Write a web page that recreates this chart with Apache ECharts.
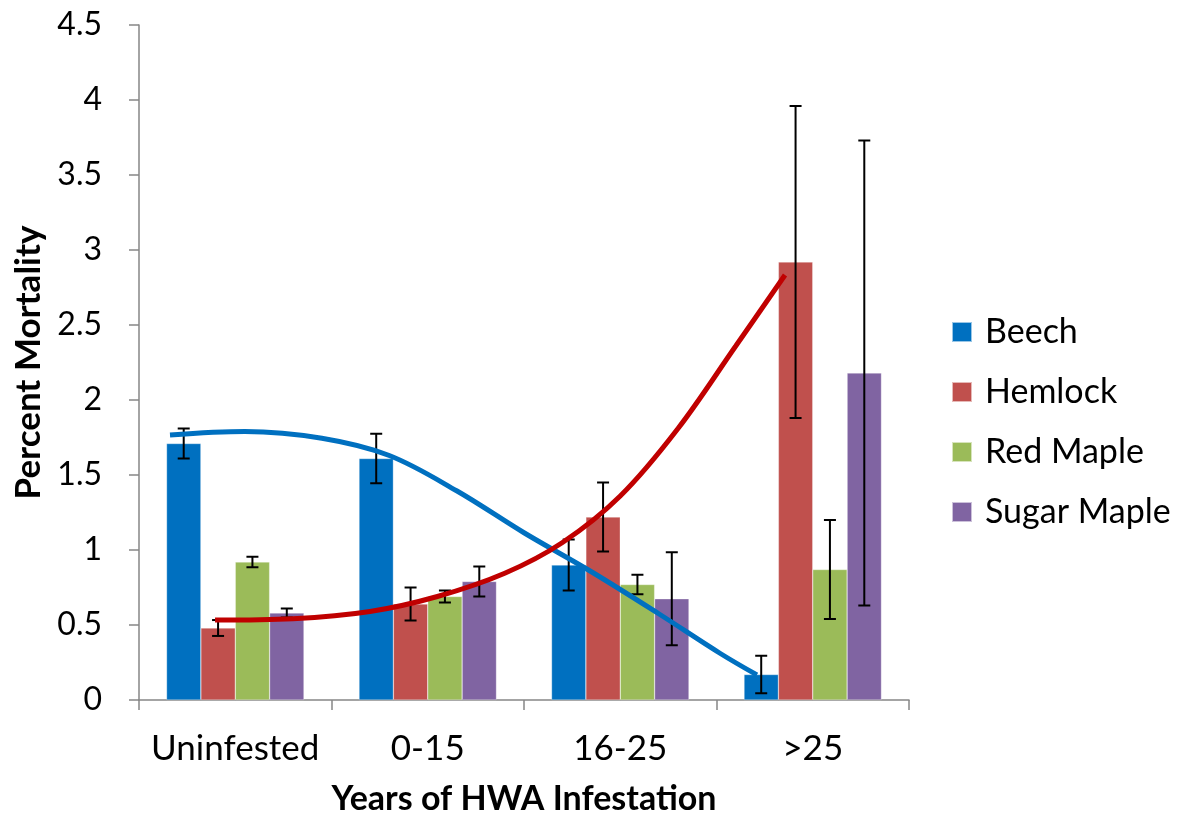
<!DOCTYPE html>
<html>
<head>
<meta charset="utf-8">
<script src="https://cdn.jsdelivr.net/npm/echarts@6/dist/echarts.min.js"></script>
<style>
  html, body { margin: 0; padding: 0; background: #fff; }
  #chart { width: 1178px; height: 816px; }
</style>
</head>
<body>
<div id="chart"></div>
<script>
// Mortality by years of hemlock woolly adelgid infestation
const categories = ['Uninfested', '0-15', '16-25', '>25'];
const species = ['Beech', 'Hemlock', 'Red Maple', 'Sugar Maple'];

const beech = [1.71, 1.61, 0.90, 0.17];
const hemlock = [0.48, 0.64, 1.22, 2.92];
const redMaple = [0.92, 0.69, 0.77, 0.87];
const sugarMaple = [0.58, 0.79, 0.675, 2.18];

// symmetric error half-widths
const beechErr = [0.10, 0.165, 0.17, 0.125];
const hemlockErr = [0.053, 0.11, 0.23, 1.04];
const redMapleErr = [0.035, 0.04, 0.065, 0.33];
const sugarMapleErr = [0.03, 0.10, 0.31, 1.55];

// hand-drawn trend curves: [position along category axis (0..4), percent]
const beechTrend = [
  [0.161, 1.767], [0.55, 1.790], [0.95, 1.745], [1.30, 1.630], [1.65, 1.395],
  [2.00, 1.115], [2.35, 0.855], [2.70, 0.575], [3.02, 0.310], [3.21, 0.167]
];
const hemlockTrend = [
  [0.395, 0.533], [0.80, 0.542], [1.20, 0.590], [1.55, 0.690], [1.90, 0.845],
  [2.20, 1.050], [2.50, 1.360], [2.80, 1.810], [3.10, 2.360], [3.356, 2.833]
];

const yTicks = { min: 0, max: 4.5, interval: 0.5 };

const barColors = ['#0070C0', '#C0504D', '#9BBB59', '#8064A2'];
const FONT = 'Lato';
const GAP = 0.286; // category gap share

const values = [beech, hemlock, redMaple, sugarMaple];
const errors = [beechErr, hemlockErr, redMapleErr, sugarMapleErr];

const chart = echarts.init(document.getElementById('chart'));

const barSeries = species.map((name, i) => ({
  name: name,
  type: 'bar',
  xAxisIndex: 0,
  yAxisIndex: 0,
  data: values[i],
  barGap: '0%',
  barCategoryGap: (GAP * 100) + '%',
  itemStyle: { color: barColors[i], borderColor: 'rgba(255,255,255,0.6)', borderWidth: 0.5 },
  z: 2
}));

const errSeries = species.map((name, i) => ({
  type: 'custom',
  xAxisIndex: 0,
  yAxisIndex: 0,
  silent: true,
  z: 3,
  data: values[i].map((v, c) => [c, v - errors[i][c], v + errors[i][c]]),
  renderItem: function (params, api) {
    const c = api.value(0);
    const cw = api.size([1, 0])[0];
    const bw = cw * (1 - GAP) / 4;
    const x = api.coord([c, 0])[0] + (i - 1.5) * bw;
    const yLo = api.coord([c, api.value(1)])[1];
    const yHi = api.coord([c, api.value(2)])[1];
    const cap = 6;
    const st = { stroke: '#000', lineWidth: 2 };
    return {
      type: 'group',
      children: [
        { type: 'line', shape: { x1: x, y1: yLo, x2: x, y2: yHi }, style: st },
        { type: 'line', shape: { x1: x - cap, y1: yLo, x2: x + cap, y2: yLo }, style: st },
        { type: 'line', shape: { x1: x - cap, y1: yHi, x2: x + cap, y2: yHi }, style: st }
      ]
    };
  }
}));

const trendSeries = [
  { data: beechTrend, color: '#0070C0' },
  { data: hemlockTrend, color: '#C00000' }
].map(t => ({
  type: 'line',
  xAxisIndex: 1,
  yAxisIndex: 0,
  data: t.data,
  smooth: 0.35,
  symbol: 'none',
  silent: true,
  z: 4,
  lineStyle: { color: t.color, width: 5, cap: 'butt' }
}));

chart.setOption({
  backgroundColor: '#fff',
  animation: false,
  grid: { left: 139, right: 269, top: 25, bottom: 116, containLabel: false, outerBoundsMode: 'none' },
  legend: {
    data: species,
    orient: 'vertical',
    left: 946,
    top: 310,
    itemWidth: 20,
    itemHeight: 20,
    itemGap: 26,
    icon: 'rect',
    textStyle: { fontFamily: FONT, fontSize: 34, color: '#000', padding: [0, 0, 0, 8] }
  },
  xAxis: [
    {
      type: 'category',
      data: categories,
      boundaryGap: true,
      name: 'Years of HWA Infestation',
      nameLocation: 'middle',
      nameGap: 82,
      nameTextStyle: { fontFamily: FONT, fontSize: 34, fontWeight: 'bold', color: '#000' },
      axisLine: { lineStyle: { color: '#868686', width: 1.5 } },
      axisTick: { show: true, length: 10, lineStyle: { color: '#868686', width: 1.5 } },
      axisLabel: { fontFamily: FONT, fontSize: 35, color: '#000', margin: 31, interval: 0 }
    },
    {
      type: 'value',
      min: 0,
      max: 4,
      show: false
    }
  ],
  yAxis: {
    type: 'value',
    min: yTicks.min,
    max: yTicks.max,
    interval: yTicks.interval,
    name: 'Percent Mortality',
    nameLocation: 'middle',
    nameGap: 92,
    nameRotate: 90,
    nameTextStyle: { fontFamily: FONT, fontSize: 35, fontWeight: 'bold', color: '#000' },
    axisLine: { show: true, lineStyle: { color: '#868686', width: 1.5 } },
    axisTick: { show: true, length: 10, lineStyle: { color: '#868686', width: 1.5 } },
    splitLine: { show: false },
    axisLabel: { fontFamily: FONT, fontSize: 32, color: '#000', margin: 37 }
  },
  series: [...barSeries, ...errSeries, ...trendSeries]
});
</script>
</body>
</html>
